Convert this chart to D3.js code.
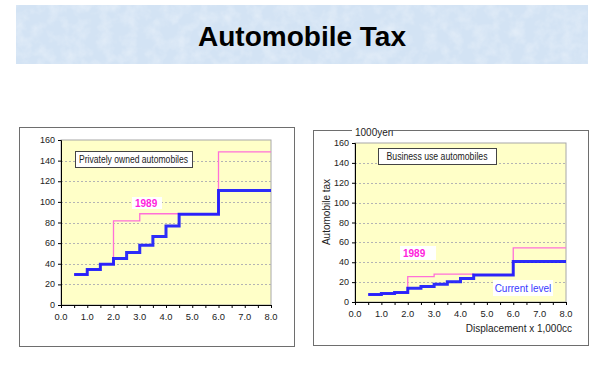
<!DOCTYPE html>
<html><head><meta charset="utf-8">
<script src="https://cdn.jsdelivr.net/npm/d3@7"></script>
<style>body{margin:0;background:#fff}svg{display:block}</style>
</head><body>
<svg id="c" width="600" height="365"></svg>
<script>
// ---- data ----
const breaks = [0.5, 1.0, 1.5, 2.0, 2.5, 3.0, 3.5, 4.0, 4.5, 6.0, 8.0];
const privateCurrent = [29.5, 34.5, 39.5, 45, 51, 58, 66.5, 76.5, 88, 111];
const private1989 = [29.5, 34.5, 39.5, 81.5, 81.5, 88.5, 88.5, 88.5, 88, 148.5];
const businessCurrent = [7.5, 8.5, 9.5, 13.8, 15.7, 17.9, 20.5, 23.6, 27.2, 40.7];
const business1989 = [7.5, 8.5, 9.5, 25.5, 25.5, 28, 28, 28, 27.2, 54.5];
const xTickLabels = ["0.0","1.0","2.0","3.0","4.0","5.0","6.0","7.0","8.0"];
const yTicks = [0, 20, 40, 60, 80, 100, 120, 140, 160];

const svg = d3.select("#c");
const FONT = "Arial, 'Liberation Sans', sans-serif";

// banner
const defs = svg.append("defs");
const f = defs.append("filter").attr("id","tex").attr("x",0).attr("y",0).attr("width","100%").attr("height","100%");
f.append("feTurbulence").attr("type","fractalNoise").attr("baseFrequency","0.08").attr("numOctaves",3).attr("seed",4).attr("result","n");
f.append("feColorMatrix").attr("in","n").attr("type","matrix")
 .attr("values","0 0 0 0 1  0 0 0 0 1  0 0 0 0 1  0 0 0 -1.2 0.75").attr("result","m");
f.append("feComposite").attr("in","m").attr("in2","SourceGraphic").attr("operator","in");
svg.append("rect").attr("x",16).attr("y",5).attr("width",572).attr("height",59).attr("fill","#d3e3f4");
svg.append("rect").attr("x",16).attr("y",5).attr("width",572).attr("height",59).attr("fill","#d3e3f4").attr("filter","url(#tex)").attr("opacity",0.5);
svg.append("text").attr("x",302).attr("y",46).attr("text-anchor","middle")
  .attr("font-family",FONT).attr("font-weight","bold").attr("font-size",28).attr("fill","#000").text("Automobile Tax");

function toPts(vals){
  const pts = vals.map((v,i)=>[breaks[i], v]);
  pts.push([breaks[breaks.length-1], vals[vals.length-1]]);
  return pts;
}

function chart(o){
  const g = svg.append("g");
  g.append("rect").attr("x",o.box[0]+0.5).attr("y",o.box[1]+0.5).attr("width",o.box[2]).attr("height",o.box[3])
    .attr("fill","#fff").attr("stroke","#6e6e6e").attr("stroke-width",1);
  const x = d3.scaleLinear().domain([0,8]).range(o.xr);
  const y = d3.scaleLinear().domain([0,160]).range(o.yr);
  g.append("rect").attr("x",o.xr[0]).attr("y",o.yr[1]).attr("width",o.xr[1]-o.xr[0]).attr("height",o.yr[0]-o.yr[1])
    .attr("fill","#ffffc8").attr("stroke","#a8a8a8").attr("stroke-width",1);
  g.selectAll(".gl").data(yTicks.filter(d=>d>0&&d<160)).join("line")
    .attr("x1",o.xr[0]).attr("x2",o.xr[1]).attr("y1",d=>Math.round(y(d))+0.5).attr("y2",d=>Math.round(y(d))+0.5)
    .attr("stroke","#b4b4b4").attr("stroke-dasharray","2,2");
  const xa = d3.axisBottom(x).tickValues(d3.range(0,8.01,0.5)).tickSize(3).tickFormat("");
  g.append("g").attr("transform",`translate(0,${o.yr[0]})`).call(xa)
    .call(s=>{s.select(".domain").attr("stroke","#000");s.selectAll(".tick line").attr("stroke","#000");});
  g.selectAll(".xl").data(xTickLabels).join("text")
    .attr("x",(d,i)=>x(i)).attr("y",o.yr[0]+15).attr("text-anchor","middle")
    .attr("font-family",FONT).attr("font-size",9).attr("fill","#222").attr("textLength",13).attr("lengthAdjust","spacingAndGlyphs").text(d=>d);
  const ya = d3.axisLeft(y).tickValues(yTicks).tickSize(3).tickFormat("");
  g.append("g").attr("transform",`translate(${o.xr[0]},0)`).call(ya)
    .call(s=>{s.select(".domain").attr("stroke","#000");s.selectAll(".tick line").attr("stroke","#000");});
  g.selectAll(".yl").data(yTicks).join("text")
    .attr("x",o.xr[0]-6).attr("y",d=>y(d)+3).attr("text-anchor","end")
    .attr("font-family",FONT).attr("font-size",9).attr("fill","#222").text(d=>d);
  const line = d3.line().x(d=>x(d[0])).y(d=>y(d[1])).curve(d3.curveStepAfter);
  g.append("path").attr("d",line(toPts(o.old))).attr("fill","none").attr("stroke","#ff70d8").attr("stroke-width",1.3);
  g.append("path").attr("d",line(toPts(o.cur))).attr("fill","none").attr("stroke","#1010ff").attr("stroke-width",3).attr("opacity",0.88);
  g.append("rect").attr("x",o.tb[0]+0.5).attr("y",o.tb[1]+0.5).attr("width",o.tb[2]).attr("height",o.tb[3])
    .attr("fill","#fff").attr("stroke","#444");
  g.append("text").attr("x",o.tb[0]+o.tb[2]/2).attr("y",o.tb[1]+o.tb[3]/2+3.5).attr("text-anchor","middle")
    .attr("font-family",FONT).attr("font-size",10).attr("fill","#222")
    .attr("textLength",o.tl).attr("lengthAdjust","spacingAndGlyphs").text(o.title);
  g.append("rect").attr("x",o.lb[0]).attr("y",o.lb[1]).attr("width",o.lb[2]).attr("height",o.lb[3]).attr("fill","#fff");
  g.append("text").attr("x",o.lb[0]+3).attr("y",o.lb[1]+o.lb[3]/2+3.5)
    .attr("font-family",FONT).attr("font-weight","bold").attr("font-size",10).attr("fill","#ff22dd").text(o.lbText);
  return {g,x,y};
}

chart({box:[19,127,275,219], xr:[61,271], yr:[305,140], cur:privateCurrent, old:private1989,
  tb:[75,151,117,16], tl:109, title:"Privately owned automobiles", lb:[132,197,30,12], lbText:"1989"});

chart({box:[313,130,275,215], xr:[355,566], yr:[302,143], cur:businessCurrent, old:business1989,
  tb:[378,148,118,16], tl:101, title:"Business use automobiles", lb:[400,246,36,14], lbText:"1989"});

svg.append("rect").attr("x",352).attr("y",127).attr("width",40).attr("height",10).attr("fill","#fff");
svg.append("text").attr("x",355).attr("y",136).attr("font-family",FONT).attr("font-size",10).attr("fill","#222").text("1000yen");
svg.append("text").attr("transform","translate(330,212) rotate(-90)").attr("text-anchor","middle")
  .attr("font-family",FONT).attr("font-size",10).attr("fill","#222").text("Automobile tax");
svg.append("text").attr("x",572).attr("y",332).attr("text-anchor","end")
  .attr("font-family",FONT).attr("font-size",10).attr("fill","#222").text("Displacement x 1,000cc");
svg.append("rect").attr("x",493).attr("y",280).attr("width",60).attr("height",16).attr("fill","#fff");
svg.append("text").attr("x",523).attr("y",292).attr("text-anchor","middle")
  .attr("font-family",FONT).attr("font-size",10).attr("fill","#3a3aff").text("Current level");
</script>
</body></html>
